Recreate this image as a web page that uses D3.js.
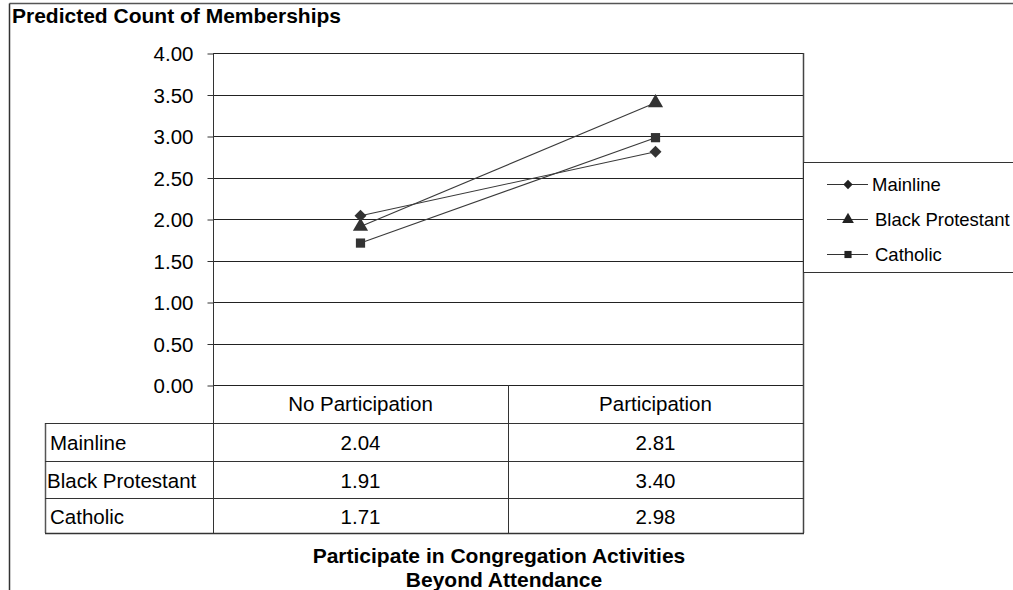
<!DOCTYPE html>
<html>
<head>
<meta charset="utf-8">
<script src="https://cdn.jsdelivr.net/npm/d3@7"></script>
<style>
  html, body { margin: 0; padding: 0; background: #fff; }
  svg { display: block; }
  text { font-family: "Liberation Sans", Arial, sans-serif; fill: #000; }
</style>
</head>
<body>
<svg id="chart" width="1013" height="590"></svg>
<script>
// ---- data ----
const categories = ["No Participation", "Participation"];
const seriesNames = ["Mainline", "Black Protestant", "Catholic"];
const mainline = [2.04, 2.81];
const blackProtestant = [1.91, 3.40];
const catholic = [1.71, 2.98];
const yTicks = [0.00, 0.50, 1.00, 1.50, 2.00, 2.50, 3.00, 3.50, 4.00];
const chartTitle = "Predicted Count of Memberships";
const xTitle = ["Participate in Congregation Activities", "Beyond Attendance"];

const seriesValues = [mainline, blackProtestant, catholic];

// ---- layout ----
const svg = d3.select("#chart");
const L = 213, R = 803, T = 53, B = 385;
const tableLeft = 45, rowH = [423, 461, 498, 533];
const fmt = d3.format(".2f");

const x = d3.scaleBand().domain(categories).range([L, R]);
const y = d3.scaleLinear().domain([0, 4]).range([B, T]);
const cx = c => x(c) + x.bandwidth() / 2;

function txt(parent, px, py, str, o = {}) {
  return parent.append("text")
    .attr("x", px).attr("y", py)
    .attr("text-anchor", o.anchor || "start")
    .style("font-size", (o.size || 20.5) + "px")
    .style("font-weight", o.bold ? "bold" : "normal")
    .text(str);
}

// marker generators
const markers = [
  (s) => d3.symbol().type(d3.symbolSquare).size(s * 0.55)(),           // diamond (rotated square)
  (s) => d3.symbol().type(d3.symbolTriangle).size(s)(),
  (s) => d3.symbol().type(d3.symbolSquare).size(s)()
];
const markerRot = [45, 0, 0];
const markerSize = [130, 100, 85];

// outer frame
svg.append("line").attr("x1", 9.5).attr("x2", 1013).attr("y1", 3.5).attr("y2", 3.5)
  .attr("stroke", "#555").attr("stroke-width", 1.5);
svg.append("line").attr("x1", 9.5).attr("x2", 9.5).attr("y1", 3.5).attr("y2", 590)
  .attr("stroke", "#333").attr("stroke-width", 1.5);

// title
txt(svg, 12, 23, chartTitle, { bold: true, size: 21 });

// gridlines
svg.append("g").selectAll("line").data(yTicks).join("line")
  .attr("x1", L).attr("x2", R)
  .attr("y1", d => Math.round(y(d)) + 0.5).attr("y2", d => Math.round(y(d)) + 0.5)
  .attr("stroke", "#222").attr("stroke-width", 1);

// y axis
const yAxis = svg.append("g").attr("transform", `translate(${L + 0.5},0.5)`)
  .call(d3.axisLeft(y).tickValues(yTicks).tickFormat(fmt).tickSize(6).tickPadding(14));
yAxis.select(".domain").remove();
yAxis.selectAll(".tick line").attr("stroke", "#333");
yAxis.selectAll(".tick text")
  .style("font-size", "20.5px")
  .attr("font-family", null)
  .attr("x", -20)
  .attr("dy", "0.36em");

// plot left/right borders (extend through table)
svg.append("line").attr("x1", L + 0.5).attr("x2", L + 0.5).attr("y1", T).attr("y2", rowH[3])
  .attr("stroke", "#333");
svg.append("line").attr("x1", R + 0.5).attr("x2", R + 0.5).attr("y1", T).attr("y2", rowH[3])
  .attr("stroke", "#444").attr("stroke-width", 1.5);

// data table
const tb = svg.append("g");
tb.append("line").attr("x1", (L + R) / 2 + 0.5).attr("x2", (L + R) / 2 + 0.5)
  .attr("y1", B).attr("y2", rowH[3]).attr("stroke", "#333");
tb.append("line").attr("x1", tableLeft + 0.5).attr("x2", tableLeft + 0.5)
  .attr("y1", rowH[0]).attr("y2", rowH[3]).attr("stroke", "#555").attr("stroke-width", 1.5);
rowH.forEach(h => {
  tb.append("line").attr("x1", tableLeft).attr("x2", R + 1).attr("y1", h + 0.5).attr("y2", h + 0.5)
    .attr("stroke", "#333").attr("stroke-width", h === rowH[3] ? 1.5 : 1);
});
categories.forEach(c => txt(tb, cx(c), 411, c, { anchor: "middle" }));
seriesNames.forEach((s, i) => {
  const midY = (rowH[i] + rowH[i + 1]) / 2 + 8;
  txt(tb, i === 1 ? 47 : 50, midY, s);
  categories.forEach((c, j) => txt(tb, cx(c), midY, fmt(seriesValues[i][j]), { anchor: "middle" }));
});

// series lines + markers
const line = d3.line().x((d, j) => cx(categories[j])).y(d => y(d));
seriesValues.forEach((vals) => {
  svg.append("path").datum(vals).attr("d", line)
    .attr("fill", "none").attr("stroke", "#3a3a3a").attr("stroke-width", 1.1);
});
seriesValues.forEach((vals, i) => {
  svg.append("g").selectAll("path").data(vals).join("path")
    .attr("transform", (d, j) => `translate(${cx(categories[j])},${y(d)}) rotate(${markerRot[i]})`)
    .attr("d", markers[i](markerSize[i]))
    .attr("fill", "#333");
});

// legend
const lg = svg.append("g");
lg.append("rect").attr("x", R + 0.5).attr("y", 162.5).attr("width", 230).attr("height", 110)
  .attr("fill", "#fff").attr("stroke", "#333");
const legendY = [184, 219, 254];
seriesNames.forEach((s, i) => {
  lg.append("line").attr("x1", 827).attr("x2", 868).attr("y1", legendY[i] + 0.5).attr("y2", legendY[i] + 0.5)
    .attr("stroke", "#333");
  lg.append("path").attr("transform", `translate(848,${legendY[i] + 0.5}) rotate(${markerRot[i]})`)
    .attr("d", markers[i](markerSize[i] * 0.6)).attr("fill", "#222");
  txt(lg, i === 0 ? 872 : 875, legendY[i] + 7, s, { size: 18.5 });
});

// x axis title
const xTitleX = [499, 504];
xTitle.forEach((t, i) => txt(svg, xTitleX[i], 563 + i * 24, t, { bold: true, size: 21, anchor: "middle" }));
</script>
</body>
</html>
